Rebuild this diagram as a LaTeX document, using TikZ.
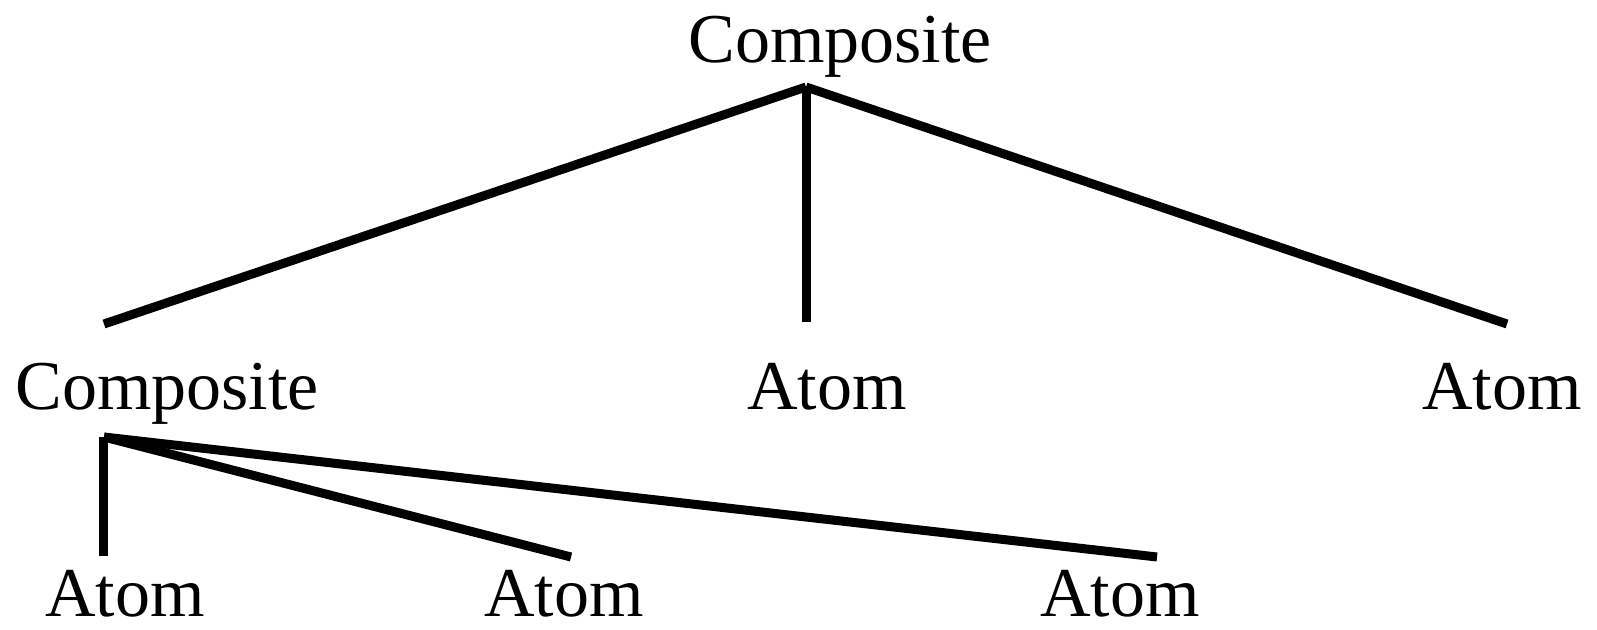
\documentclass[tikz,border=0pt]{standalone}
\usepackage{fontspec}
\setmainfont{Liberation Serif}
\begin{document}
\begin{tikzpicture}[x=1pt,y=-1pt,
  lbl/.style={anchor=base,inner sep=0pt,font=\fontsize{70}{84}\selectfont},
  edge/.style={line width=9pt,line cap=butt}]
\useasboundingbox (0,0) rectangle (1597,629);
% labels
\node[lbl] (root) at (840,62) {Composite};
\node[lbl] (c1) at (167,409) {Composite};
\node[lbl] (a1) at (827,409) {Atom};
\node[lbl] (a2) at (1502,409) {Atom};
\node[lbl] (b1) at (125,616) {Atom};
\node[lbl] (b2) at (564,616) {Atom};
\node[lbl] (b3) at (1120,616) {Atom};
% connector end points
\coordinate (rtop) at (806,87);
\coordinate (rv) at (806,88);
\coordinate (rL) at (104,324);
\coordinate (rM) at (806,322);
\coordinate (rR) at (1507,324);
\coordinate (ctop) at (104,437);
\coordinate (cv) at (103,437);
\coordinate (cL) at (103,556);
\coordinate (cM) at (571,557);
\coordinate (cR) at (1157,557);
% connectors
\draw[edge] (rtop) -- (rL);
\draw[edge] (rv) -- (rM);
\draw[edge] (rtop) -- (rR);
\draw[edge] (cv) -- (cL);
\draw[edge] (ctop) -- (cM);
\draw[edge] (ctop) -- (cR);
\end{tikzpicture}
\end{document}
